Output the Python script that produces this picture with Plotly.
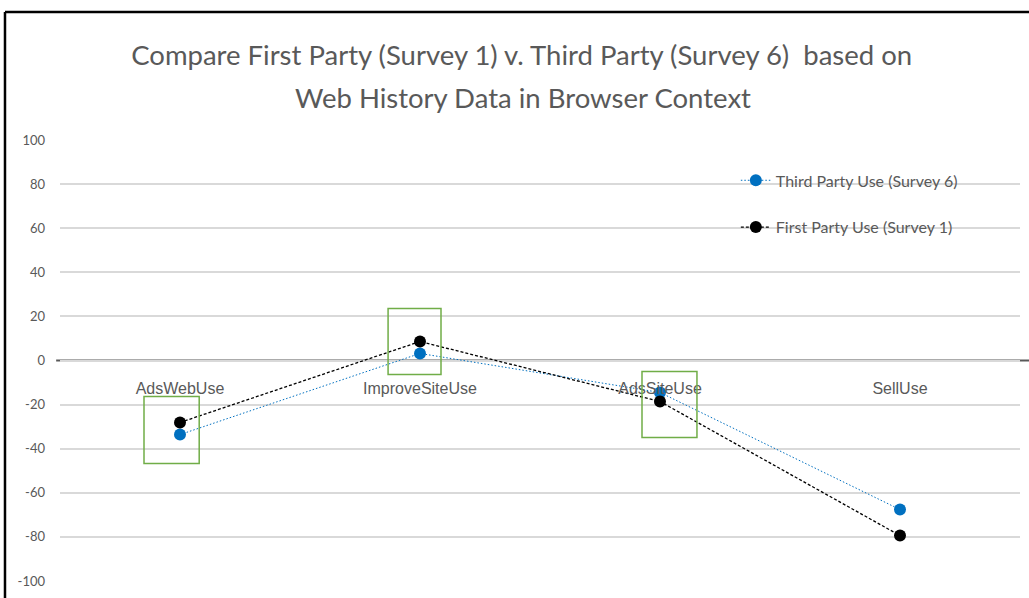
import plotly.graph_objects as go

categories = ["AdsWebUse", "ImproveSiteUse", "AdsSiteUse", "SellUse"]
third_party = [-33.6, 3.2, -14.5, -67.6]
first_party = [-28.1, 8.6, -18.6, -79.4]
y_tickvals = [100, 80, 60, 40, 20, 0, -20, -40, -60, -80, -100]
y_ticktext = ["100", "80", "60", "40", "20", "0", "-20", "-40", "-60", "-80", "-100"]

FONT = "Lato, sans-serif"
GRAY = "#595959"

fig = go.Figure()
fig.add_trace(go.Scatter(
    x=categories, y=third_party, name="Third Party Use (Survey 6)",
    mode="lines+markers", legendgroup="a",
    line=dict(color="#0070C0", width=1, dash="1.5px,2px"),
    marker=dict(color="#0070C0", size=12),
))
fig.add_trace(go.Scatter(
    x=categories, y=first_party, name="First Party Use (Survey 1)",
    mode="lines+markers", legendgroup="b",
    line=dict(color="#000000", width=1.3, dash="3px,2px"),
    marker=dict(color="#000000", size=12),
))

shapes = []
# white backdrop behind legend (hides gridlines)
shapes.append(dict(type="rect", xref="paper", yref="paper", x0=0.661, x1=0.977,
                   y0=0.762, y1=0.955, fillcolor="white", line=dict(width=0), layer="between"))
# zero axis line
shapes.append(dict(type="line", xref="paper", yref="y", x0=-0.004, x1=1.01, y0=0, y1=0,
                   line=dict(color=GRAY, width=2), layer="between"))
# highlight boxes
for x0, x1, y0, y1 in [(-0.15, 0.08, -46.7, -16.3), (0.867, 1.0875, -6.3, 23.6), (1.925, 2.154, -34.9, -5.0)]:
    shapes.append(dict(type="rect", xref="x", yref="y", x0=x0, x1=x1, y0=y0, y1=y1,
                       line=dict(color="#70AD47", width=1.5), fillcolor="rgba(0,0,0,0)", layer="above"))
# outer frame (top and left edges)
shapes.append(dict(type="line", xref="paper", yref="paper", x0=-0.0573, x1=1.02, y0=1.29, y1=1.29,
                   line=dict(color="black", width=2.5)))
shapes.append(dict(type="line", xref="paper", yref="paper", x0=-0.0573, x1=-0.0573, y0=-0.05, y1=1.29,
                   line=dict(color="black", width=2.5)))

fig.update_layout(
    width=1029, height=598,
    margin=dict(l=60, r=9, t=140, b=17),
    paper_bgcolor="white", plot_bgcolor="white",
    title=dict(text="Compare First Party (Survey 1) v. Third Party (Survey 6)  based on",
               x=0.507, xanchor="center", y=0.908, yanchor="middle", yref="container",
               font=dict(family=FONT, size=27.5, color=GRAY)),
    annotations=[dict(text="Web History Data in Browser Context", xref="paper", yref="paper",
                      x=0.482, y=1.0975, xanchor="center", yanchor="middle", showarrow=False,
                      font=dict(family=FONT, size=27.5, color=GRAY))],
    showlegend=True,
    legend=dict(x=0.704, xanchor="left", y=0.947, yanchor="top", bgcolor="rgba(0,0,0,0)",
                font=dict(family=FONT, size=16, color=GRAY), tracegroupgap=23,
                traceorder="grouped"),
    xaxis=dict(type="category", range=[-0.5, 3.5], showgrid=False, zeroline=False,
               anchor="free", position=0.5, showline=False, ticks="",
               ticklabelstandoff=16,
               tickfont=dict(family="Liberation Sans, Arial, sans-serif", size=16, color=GRAY)),
    yaxis=dict(range=[-100, 100], tickmode="array", tickvals=y_tickvals, ticktext=y_ticktext,
               showgrid=True, gridcolor="#D9D9D9", gridwidth=1.5, zeroline=False,
               ticklabelstandoff=14,
               tickfont=dict(family=FONT, size=13, color=GRAY)),
    shapes=shapes,
)

fig.write_html("out.html", config={"displayModeBar": False},
               post_script="document.body.style.margin='0';")
